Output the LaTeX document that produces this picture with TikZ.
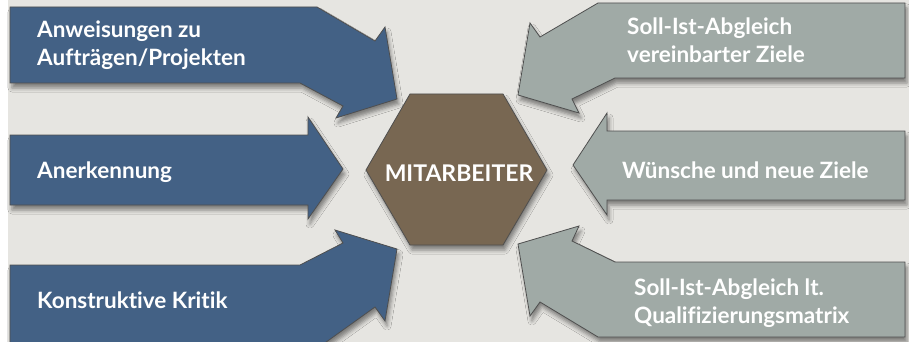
\documentclass[tikz,border=0pt]{standalone}
\usepackage{fontspec}
\setmainfont{Lato}[Ligatures={NoCommon}]
\usepackage{xcolor}
\usetikzlibrary{shadows.blur}
\definecolor{mablue}{HTML}{436185}
\definecolor{magray}{HTML}{A0AAA6}
\definecolor{mabrown}{HTML}{786752}
\definecolor{maedge}{HTML}{4F4F4F}
\definecolor{mabg}{HTML}{E6E5E1}
\tikzset{
  block/.style={draw=maedge, line width=0.8pt, line join=miter,
    blur shadow={shadow xshift=2pt, shadow yshift=-5pt, shadow blur radius=4pt, shadow opacity=45}},
  blueblock/.style={block, fill=mablue},
  grayblock/.style={block, fill=magray},
  hexcore/.style={block, fill=mabrown},
  blocktext/.style={text=white, inner sep=0pt, anchor=west, align=left,
    font=\bfseries\fontsize{22.5}{28}\selectfont},
  coretext/.style={text=white, inner sep=0pt, font=\bfseries\fontsize{23}{27}\selectfont}
}

\begin{document}
\begin{tikzpicture}[x=1pt, y=-1pt]
  \useasboundingbox (0,0) rectangle (909,342);
  \fill[white] (0,0) rectangle (909,342);
  \fill[mabg] (8,0) rectangle (909,342);

  % left blocks
  \draw[blueblock] (10,7) -- (317,7) -- (375,41) -- (385,27) -- (397,99)
    -- (336,118) -- (343,106) -- (300,83) -- (10,83) -- cycle;
  \draw[blueblock] (10,135) -- (308,135) -- (308,117) -- (343,169)
    -- (308,219) -- (308,205) -- (10,205) -- cycle;
  \draw[blueblock] (10,350) -- (315,350) -- (375,307) -- (385,321) -- (397,249)
    -- (335,230) -- (343,243) -- (300,265) -- (10,265) -- cycle;

  % right blocks
  \draw[grayblock] (905,3) -- (598,3) -- (540,37) -- (530,23) -- (518,95)
    -- (579,113) -- (572,99) -- (615,78) -- (905,78) -- cycle;
  \draw[grayblock] (905,131) -- (607,131) -- (607,113) -- (573,165)
    -- (607,215) -- (607,200) -- (905,200) -- cycle;
  \draw[grayblock] (905,337) -- (598,337) -- (540,302) -- (530,316) -- (518,244)
    -- (579,226) -- (572,241) -- (615,262) -- (905,262) -- cycle;

  % centre
  \draw[hexcore] (366,170) -- (410,94) -- (503,94) -- (547,170)
    -- (503,245) -- (410,245) -- cycle;
  \node[coretext] (core) at (459,173) {MITARBEITER};

  \node[blocktext] (orders) at (37,45) {Anweisungen zu\\Aufträgen/Projekten};
  \node[blocktext] (praise) at (37,172) {Anerkennung};
  \node[blocktext] (critique) at (37,300) {Konstruktive Kritik};
  \node[blocktext] (targets) at (627,40) {Soll-Ist-Abgleich\\vereinbarter Ziele};
  \node[blocktext] (wishes) at (622,170) {Wünsche und neue Ziele};
  \node[blocktext] (matrix) at (634,303) {Soll-Ist-Abgleich lt.\\Qualifizierungsmatrix};
\end{tikzpicture}
\end{document}
